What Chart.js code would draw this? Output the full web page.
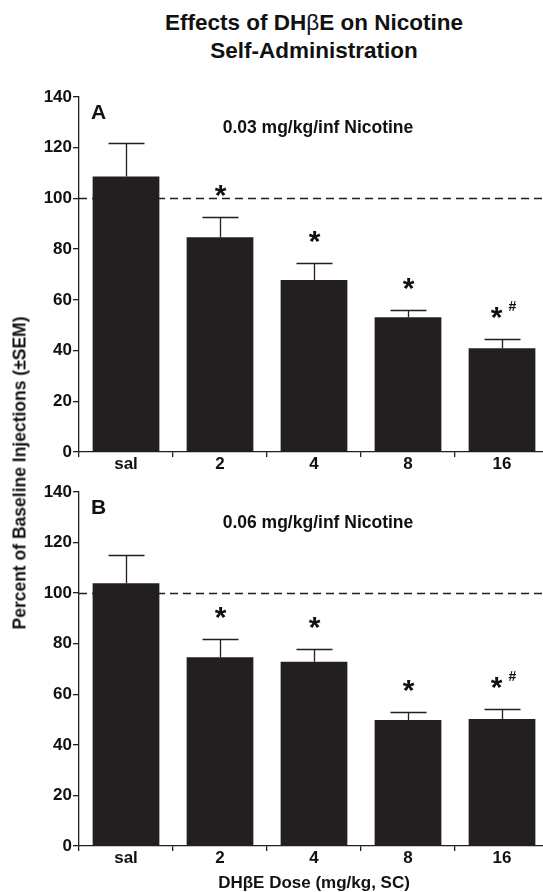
<!DOCTYPE html>
<html lang="en">
<head>
<meta charset="UTF-8">
<title>Effects of DHβE on Nicotine Self-Administration</title>
<script src="https://cdn.jsdelivr.net/npm/chart.js"></script>
<style>
    html, body { margin: 0; padding: 0; background: #fff; overflow: hidden; }
    body { width: 543px; height: 892px; position: relative; font-family: "Liberation Sans", Arial, sans-serif; color: #111; }
    canvas { position: absolute; left: 0; }
    #chartA { top: 80px; }
    #chartB { top: 475px; }
    .title { position: absolute; left: 314px; top: 9px; transform: translateX(-50%); text-align: center;
             font-weight: bold; font-size: 22.5px; line-height: 28px; white-space: nowrap; }
    .ylabel { position: absolute; left: 19.5px; top: 473px; transform: translate(-50%, -50%) rotate(-90deg);
              font-weight: bold; font-size: 17.5px; white-space: nowrap; }
</style>
</head>
<body>
    <div class="title">Effects of DH<span style="font-weight: normal">β</span>E on Nicotine<br>Self-Administration</div>
    <canvas id="chartA" width="551" height="400"></canvas>
    <canvas id="chartB" width="551" height="417"></canvas>
    <div class="ylabel">Percent of Baseline Injections (±SEM)</div>

<script>
    // values
    const doses = ['sal', '2', '4', '8', '16'];
    const meanA = [108.6, 84.7, 67.8, 53.1, 40.9];
    const semA = [13.1, 8.1, 6.9, 2.9, 3.5];
    const sigA = ['', '*', '*', '*', '*#'];
    const meanB = [103.9, 74.6, 72.9, 49.8, 50.2];
    const semB = [11.0, 7.3, 5.1, 3.2, 4.1];
    const sigB = ['', '*', '*', '*', '*#'];
    const yMin = 0, yMax = 140, yStep = 20;
    const baseline = 100;

    const ink = '#231f20';
    const textColor = '#111';
    const fontFamily = '"Liberation Sans", Arial, sans-serif';
    Chart.defaults.font.family = fontFamily;

    const panelMarks = {
        id: 'panelMarks',
        beforeDatasetsDraw(chart, args, opts) {
            // dashed 100% baseline, behind the bars
            const { ctx, chartArea: a, scales: { y } } = chart;
            const yy = Math.round(y.getPixelForValue(baseline)) + 0.5;
            ctx.save();
            ctx.strokeStyle = ink;
            ctx.lineWidth = 1.3;
            ctx.setLineDash([8, 5]);
            ctx.beginPath();
            ctx.moveTo(a.left, yy);
            ctx.lineTo(a.right, yy);
            ctx.stroke();
            ctx.restore();
        },
        afterDatasetsDraw(chart, args, opts) {
            const { ctx, chartArea: a, scales: { x, y } } = chart;
            const means = chart.data.datasets[0].data;
            ctx.save();
            ctx.strokeStyle = ink;
            ctx.fillStyle = textColor;
            ctx.lineWidth = 1.3;
            means.forEach((m, i) => {
                const cx = Math.round(x.getPixelForValue(i)) + 0.5;
                const top = y.getPixelForValue(m);
                const cap = Math.round(y.getPixelForValue(m + opts.sem[i])) + 0.5;
                ctx.beginPath();
                ctx.moveTo(cx, top);
                ctx.lineTo(cx, cap);
                ctx.moveTo(cx - 18, cap);
                ctx.lineTo(cx + 18, cap);
                ctx.stroke();

                const s = opts.sig[i];
                ctx.textBaseline = 'alphabetic';
                ctx.textAlign = 'center';
                if (s.includes('*')) {
                    ctx.font = 'bold 30px ' + fontFamily;
                    ctx.fillText('*', s.includes('#') ? cx - 6 : cx, cap - 13);
                }
                if (s.includes('#')) {
                    ctx.font = 'bold 14px ' + fontFamily;
                    ctx.fillText('#', cx + 10, cap - 29);
                }
            });

            ctx.textAlign = 'left';
            ctx.font = 'bold 21px ' + fontFamily;
            ctx.fillText(opts.letter, a.left + 12, a.top + 22);
            ctx.textAlign = 'center';
            ctx.font = 'bold 17.5px ' + fontFamily;
            ctx.fillText(opts.subtitle, 318, a.top + 36);
            ctx.restore();
        }
    };

    function makePanel(id, means, sem, sig, letter, subtitle, xHeight, showTitle) {
        return new Chart(document.getElementById(id), {
            type: 'bar',
            data: {
                labels: doses,
                datasets: [{
                    data: means,
                    backgroundColor: ink,
                    borderWidth: 0,
                    barPercentage: 0.71,
                    categoryPercentage: 1
                }]
            },
            options: {
                responsive: false,
                animation: false,
                devicePixelRatio: 1,
                layout: { padding: { top: 17, right: 2, bottom: 0, left: 0 } },
                plugins: {
                    legend: { display: false },
                    tooltip: { enabled: false },
                    panelMarks: { sem, sig, letter, subtitle }
                },
                scales: {
                    x: {
                        offset: true,
                        grid: { offset: true, drawOnChartArea: false, tickLength: 5, color: ink, lineWidth: 1.3 },
                        border: { color: ink, width: 1.3 },
                        ticks: {
                            color: textColor, padding: -1, maxRotation: 0, autoSkip: false,
                            font: { size: 17, weight: 'bold', lineHeight: 1 }
                        },
                        title: {
                            display: showTitle,
                            text: 'DHβE Dose (mg/kg, SC)',
                            color: textColor,
                            padding: 0,
                            font: { size: 17, weight: 'bold', lineHeight: 1 }
                        },
                        afterFit: s => { s.height = xHeight; }
                    },
                    y: {
                        min: yMin,
                        max: yMax,
                        grid: { drawOnChartArea: false, tickLength: 6, color: ink, lineWidth: 1.3 },
                        border: { color: ink, width: 1.3 },
                        ticks: {
                            stepSize: yStep, color: textColor, padding: 1,
                            font: { size: 17, weight: 'bold' }
                        },
                        afterFit: s => { s.width = 79; }
                    }
                }
            },
            plugins: [panelMarks]
        });
    }

    makePanel('chartA', meanA, semA, sigA, 'A', '0.03 mg/kg/inf Nicotine', 28, false);
    makePanel('chartB', meanB, semB, sigB, 'B', '0.06 mg/kg/inf Nicotine', 46, true);
</script>
</body>
</html>
